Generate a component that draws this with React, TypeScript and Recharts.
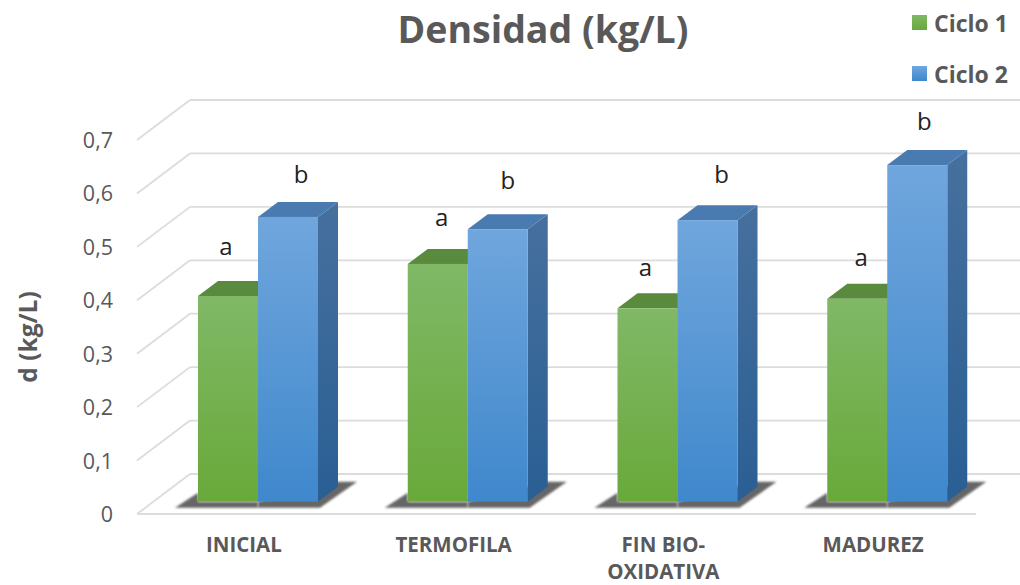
import { Bar, BarChart, CartesianGrid, Label, LabelList, Legend, XAxis, YAxis } from "recharts";

const categories = ["INICIAL", "TERMOFILA", "FIN BIO-\nOXIDATIVA", "MADUREZ"];
const ciclo1 = [0.385, 0.445, 0.362, 0.38];
const ciclo2 = [0.533, 0.51, 0.527, 0.63];
const letras1 = ["a", "a", "a", "a"];
const letras2 = ["b", "b", "b", "b"];
const yTicks = [0, 0.1, 0.2, 0.3, 0.4, 0.5, 0.6, 0.7];

const rows = categories.map((name, i) => ({
  name,
  ciclo1: ciclo1[i],
  ciclo2: ciclo2[i],
  letra1: letras1[i],
  letra2: letras2[i],
}));

// Hand placement of the significance letters, relative to each bar's top centre
const nudge1 = [
  { dx: -2, dy: -41 },
  { dx: 4, dy: -38 },
  { dx: -2, dy: -32 },
  { dx: 4, dy: -33 },
];
const nudge2 = [
  { dx: 13, dy: -34 },
  { dx: 10, dy: -40 },
  { dx: 14, dy: -37 },
  { dx: 7, dy: -35 },
];

const FONT = "'Open Sans', sans-serif";
const TEXT = "#595959";

// Fake-3D projection: the bars sit in the middle of the floor
const WALL_FRONT = { dx: -16, dy: 12.3 };
const WALL_BACK = { dx: 37, dy: -27.7 };
const BAR_DEPTH = { dx: 20, dy: -15 };

function GridLine(props: any) {
  const { x1, x2, y1, index } = props;
  const fx = x1 + WALL_FRONT.dx;
  const fy = y1 + WALL_FRONT.dy;
  const bx = x1 + WALL_BACK.dx;
  const by = y1 + WALL_BACK.dy;
  const bx2 = x2 + WALL_BACK.dx;
  const isFloor = Math.abs(y1 - 501.7) < 1;
  return (
    <g key={index} stroke="#dcdcdc" strokeWidth={1.8} fill="none">
      <line x1={fx} y1={fy} x2={bx} y2={by} />
      <line x1={bx} y1={by} x2={bx2} y2={by} />
      {isFloor && <line x1={fx} y1={fy} x2={x2 + WALL_FRONT.dx} y2={fy} />}
    </g>
  );
}

function Bar3D(props: any) {
  const { x, y, width, height, fill, topFill, sideFill, first } = props;
  const base = y + height;
  const right = x + width;
  const { dx, dy } = BAR_DEPTH;
  const shadow = first
    ? `${x - 23},${base + 6} ${right},${base + 6} ${right},${base} ${x},${base} ${x},${base - 9}`
    : `${x},${base} ${x},${base + 6} ${right + 2},${base + 6} ${right + 39},${base - 20} ${right + 19},${base - 20}`;
  return (
    <g>
      <polygon points={shadow} fill="#666666" filter="url(#floorBlur)" />
      <polygon points={`${x},${y} ${x + dx},${y + dy} ${right + dx},${y + dy} ${right},${y}`} fill={topFill} />
      <polygon
        points={`${right},${y} ${right + dx},${y + dy} ${right + dx},${base + dy} ${right},${base}`}
        fill={sideFill}
      />
      <rect x={x} y={y} width={width} height={height} fill={fill} />
    </g>
  );
}

function YTick({ x, y, payload }: any) {
  return (
    <text x={x} y={y + WALL_FRONT.dy + 8} textAnchor="end" fontFamily={FONT} fontSize={21.5} fill={TEXT}>
      {String(payload.value).replace(".", ",")}
    </text>
  );
}

function XTick({ x, y, payload }: any) {
  const lines = String(payload.value).split("\n");
  return (
    <text textAnchor="middle" fontFamily={FONT} fontSize={20.5} fontWeight={700} fill={TEXT}>
      {lines.map((l, i) => (
        <tspan key={l} x={x - 14} y={y + 42 + i * 27}>
          {l}
        </tspan>
      ))}
    </text>
  );
}

function letterLabel(nudges: { dx: number; dy: number }[]) {
  return ({ x, y, width, value, index }: any) => (
    <text
      x={x + width / 2 + nudges[index].dx}
      y={y + nudges[index].dy}
      textAnchor="middle"
      fontFamily={FONT}
      fontSize={24}
      fill="#222222"
    >
      {value}
    </text>
  );
}

function LegendBox({ payload }: any) {
  return (
    <div>
      {(payload || []).map((entry: any) => (
        <div key={entry.value} style={{ display: "flex", alignItems: "center", height: 51, whiteSpace: "nowrap" }}>
          <svg width={15} height={15} style={{ marginRight: 7 }}>
            <rect width={15} height={15} fill={entry.color} />
          </svg>
          <span style={{ fontFamily: FONT, fontSize: 23, fontWeight: 700, color: TEXT }}>{entry.value}</span>
        </div>
      ))}
    </div>
  );
}

export default function App() {
  return (
    <div style={{ position: "absolute", left: 0, top: 0, width: 1020, height: 585, overflow: "hidden", background: "#fff" }}>
      <BarChart
        width={1020}
        height={585}
        data={rows}
        barSize={60}
        barGap={0}
        margin={{ top: 127.7, right: 28, bottom: 0, left: 0 }}
        style={{ overflow: "hidden" }}
      >
        <defs>
          <linearGradient id="frontGreen" x1="0" y1="0" x2="0" y2="1">
            <stop offset="0%" stopColor="#80b866" />
            <stop offset="100%" stopColor="#69a93a" />
          </linearGradient>
          <linearGradient id="frontBlue" x1="0" y1="0" x2="0" y2="1">
            <stop offset="0%" stopColor="#70a6dd" />
            <stop offset="100%" stopColor="#3f88cc" />
          </linearGradient>
          <linearGradient id="sideBlue" x1="0" y1="0" x2="0" y2="1">
            <stop offset="0%" stopColor="#46709e" />
            <stop offset="100%" stopColor="#2a5f94" />
          </linearGradient>
          <filter id="floorBlur" x="-10%" y="-30%" width="120%" height="160%">
            <feGaussianBlur stdDeviation="0.8" />
          </filter>
        </defs>
        <text x={543} y={43} textAnchor="middle" fontFamily={FONT} fontSize={37.5} fontWeight={700} fill={TEXT}>
          Densidad (kg/L)
        </text>
        <CartesianGrid vertical={false} horizontal={GridLine as any} />
        <XAxis dataKey="name" height={83.3} axisLine={false} tickLine={false} interval={0} tick={XTick as any} />
        <YAxis
          width={153}
          domain={[0, 0.7]}
          ticks={yTicks}
          axisLine={false}
          tickLine={false}
          tick={((p: any) => <YTick {...p} x={113} />) as any}
        >
          <Label
            value="d (kg/L)"
            angle={-90}
            position="center"
            content={() => (
              <text
                transform="translate(37,337) rotate(-90)"
                textAnchor="middle"
                fontFamily={FONT}
                fontSize={24.5}
                fontWeight={700}
                fill={TEXT}
              >
                d (kg/L)
              </text>
            )}
          />
        </YAxis>
        <Legend
          layout="vertical"
          align="center"
          verticalAlign="middle"
          wrapperStyle={{ left: 912, top: -3, width: 108, margin: 0 }}
          content={LegendBox as any}
        />
        <Bar
          dataKey="ciclo1"
          name="Ciclo 1"
          fill="url(#frontGreen)"
          isAnimationActive={false}
          shape={((p: any) => <Bar3D {...p} first topFill="#5a8a3e" sideFill="#4c7a34" />) as any}
        >
          <LabelList dataKey="letra1" content={letterLabel(nudge1) as any} />
        </Bar>
        <Bar
          dataKey="ciclo2"
          name="Ciclo 2"
          fill="url(#frontBlue)"
          isAnimationActive={false}
          shape={((p: any) => <Bar3D {...p} topFill="#4a7bb0" sideFill="url(#sideBlue)" />) as any}
        >
          <LabelList dataKey="letra2" content={letterLabel(nudge2) as any} />
        </Bar>
      </BarChart>
    </div>
  );
}
